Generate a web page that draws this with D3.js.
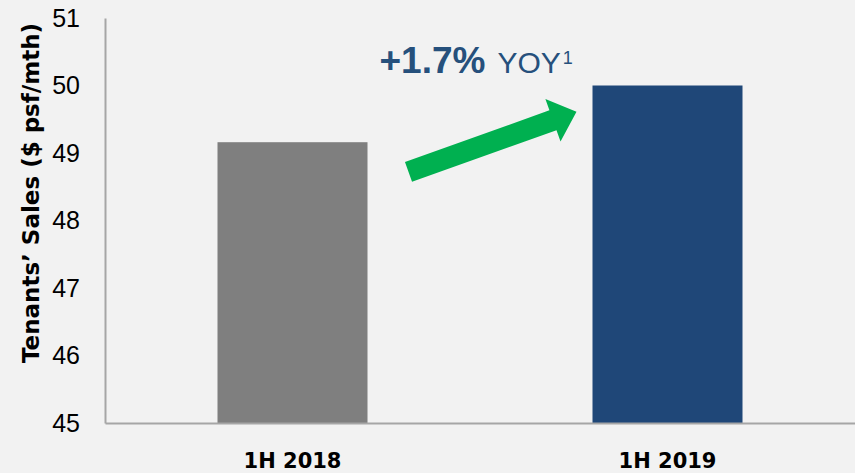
<!DOCTYPE html>
<html>
<head>
<meta charset="utf-8">
<script src="https://cdn.jsdelivr.net/npm/d3@7"></script>
<style>
  html, body { margin: 0; padding: 0; background: #f2f2f2; }
  svg { display: block; }
</style>
</head>
<body>
<div class="container-chart"></div>
<script>
// chart data
var periods = ["1H 2018", "1H 2019"];
var sales = [49.16, 50.0];
var barColors = ["#7f7f7f", "#1f4778"];
var yTicks = [45, 46, 47, 48, 49, 50, 51];
var yDomain = [45, 51];
var yTitle = "Tenants\u2019 Sales ($ psf/mth)";
var growthLabel = "+1.7%";
var growthSuffix = "YOY";
var growthNote = "1";
// arrow from / to, in chart values
var arrowFrom = [48.72];
var arrowTo = [49.61];

var width = 855;
var height = 473;
var margin = { top: 18, right: 0, bottom: 50, left: 105 };

var svg = d3.select(".container-chart")
    .append("svg")
    .attr("width", width)
    .attr("height", height)
    .attr("viewBox", "0 0 855 473");

svg.append("rect")
    .attr("width", width)
    .attr("height", height)
    .attr("fill", "#f2f2f2");

var x = d3.scaleBand()
    .domain(periods)
    .range([margin.left, width - margin.right])
    .paddingInner(0.6)
    .paddingOuter(0.3);

var y = d3.scaleLinear()
    .domain(yDomain)
    .range([height - margin.bottom, margin.top]);

// bars
svg.selectAll(".bar")
    .data(periods)
    .enter()
    .append("rect")
    .attr("class", "bar")
    .attr("x", function (d) { return x(d); })
    .attr("width", x.bandwidth())
    .attr("y", function (d, i) { return y(sales[i]); })
    .attr("height", function (d, i) { return y(yDomain[0]) - y(sales[i]); })
    .attr("fill", function (d, i) { return barColors[i]; });

// y axis
var yAxis = svg.append("g")
    .attr("transform", "translate(" + margin.left + ",0)")
    .call(d3.axisLeft(y).tickValues(yTicks).tickSize(0).tickPadding(25).tickFormat(d3.format("d")));
yAxis.select(".domain").attr("stroke", "#a6a6a6").attr("stroke-width", 2);
yAxis.selectAll("text")
    .attr("font-family", "Liberation Sans, Arial, sans-serif")
    .attr("font-size", 25)
    .attr("fill", "#000");

// x axis
var xAxis = svg.append("g")
    .attr("transform", "translate(0," + y(yDomain[0]) + ")")
    .call(d3.axisBottom(x).tickSize(0).tickPadding(30));
xAxis.select(".domain").attr("stroke", "#a6a6a6").attr("stroke-width", 2);
xAxis.selectAll("text")
    .attr("font-family", "DejaVu Sans, sans-serif")
    .attr("font-weight", "bold")
    .attr("font-size", 21)
    .attr("fill", "#000")
    .attr("dy", "0.71em");

// y title
svg.append("text")
    .attr("transform", "translate(39,193) rotate(-90)")
    .attr("text-anchor", "middle")
    .attr("font-family", "DejaVu Sans, sans-serif")
    .attr("font-weight", "bold")
    .attr("font-size", 23)
    .attr("fill", "#000")
    .text(yTitle);

// green growth arrow
function arrowPoints(x0, y0, x1, y1, shaft, headW, headL) {
    var dx = x1 - x0, dy = y1 - y0;
    var len = Math.sqrt(dx * dx + dy * dy);
    var ux = dx / len, uy = dy / len;
    var px = -uy, py = ux;
    var bx = x1 - ux * headL, by = y1 - uy * headL;
    return [
        [x0 + px * shaft / 2, y0 + py * shaft / 2],
        [bx + px * shaft / 2, by + py * shaft / 2],
        [bx + px * headW / 2, by + py * headW / 2],
        [x1, y1],
        [bx - px * headW / 2, by - py * headW / 2],
        [bx - px * shaft / 2, by - py * shaft / 2],
        [x0 - px * shaft / 2, y0 - py * shaft / 2]
    ];
}

var ax0 = x(periods[0]) + x.bandwidth() + 41;
var ax1 = x(periods[1]) - 16;
svg.append("polygon")
    .attr("points", arrowPoints(ax0, y(arrowFrom[0]), ax1, y(arrowTo[0]), 21, 45, 25).join(" "))
    .attr("fill", "#00b050");

// growth label
var label = svg.append("text")
    .attr("x", x(periods[1]) - 213)
    .attr("y", y(50.19))
    .attr("fill", "#26507c")
    .attr("font-family", "Liberation Sans, Arial, sans-serif");
label.append("tspan")
    .attr("font-weight", "bold")
    .attr("font-size", 37)
    .text(growthLabel);
label.append("tspan")
    .attr("dx", 12)
    .attr("font-size", 30)
    .text(growthSuffix);
label.append("tspan")
    .attr("dx", 2)
    .attr("dy", -9)
    .attr("font-size", 18)
    .text(growthNote);
</script>
</body>
</html>
